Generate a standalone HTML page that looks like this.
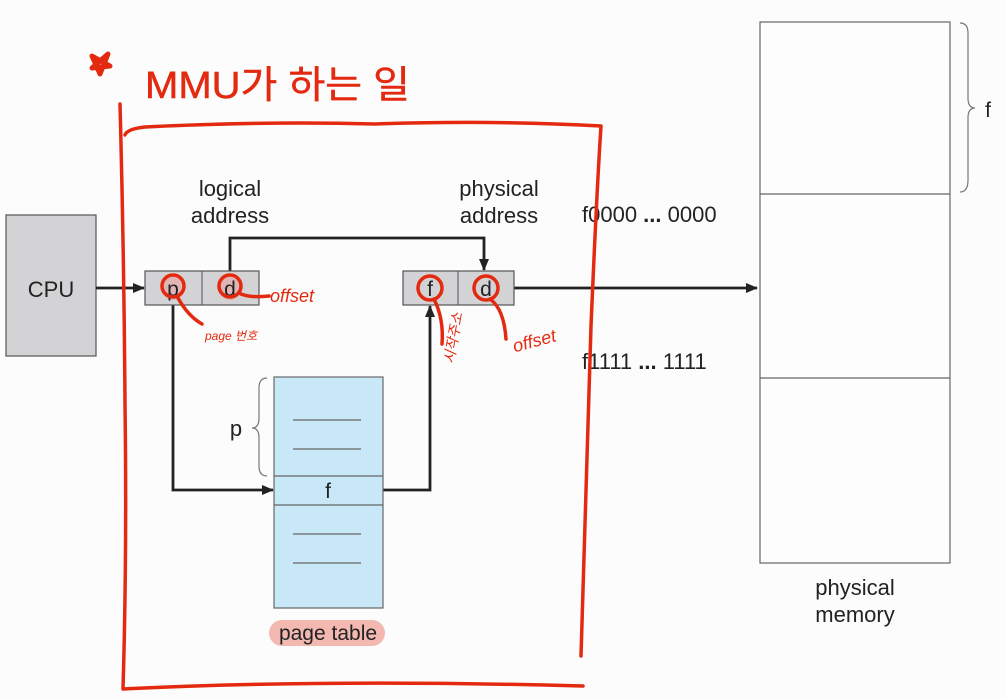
<!DOCTYPE html>
<html><head><meta charset="utf-8"><style>
html,body{margin:0;padding:0;background:#fcfcfc;}
svg{display:block}
text{font-family:"Liberation Sans",sans-serif;fill:#222}
</style></head><body>
<svg width="1006" height="699" viewBox="0 0 1006 699" xmlns="http://www.w3.org/2000/svg">
<defs><marker id="ar" markerWidth="12" markerHeight="12" refX="11" refY="6" orient="auto" markerUnits="userSpaceOnUse"><path d="M0,1 L12,6 L0,11 z" fill="#222"/></marker></defs>
<rect x="0" y="0" width="1006" height="699" fill="#fcfcfc"/>
<!-- CPU -->
<rect x="6" y="215" width="90" height="141" fill="#d3d3d5" stroke="#555" stroke-width="1.2"/>
<text x="51" y="297" font-size="22" text-anchor="middle">CPU</text>
<!-- labels -->
<text x="230" y="196" font-size="22" text-anchor="middle">logical</text>
<text x="230" y="223" font-size="22" text-anchor="middle">address</text>
<text x="499" y="196" font-size="22" text-anchor="middle">physical</text>
<text x="499" y="223" font-size="22" text-anchor="middle">address</text>
<!-- arrows -->
<line x1="96" y1="288" x2="144" y2="288" stroke="#222" stroke-width="2.8" marker-end="url(#ar)"/>
<polyline points="230,271 230,238 484,238 484,270" fill="none" stroke="#222" stroke-width="2.8" marker-end="url(#ar)"/>
<line x1="514" y1="288" x2="757" y2="288" stroke="#222" stroke-width="2.8" marker-end="url(#ar)"/>
<polyline points="173,305 173,490 273,490" fill="none" stroke="#222" stroke-width="2.8" marker-end="url(#ar)"/>
<polyline points="383,490 430,490 430,306" fill="none" stroke="#222" stroke-width="2.8" marker-end="url(#ar)"/>
<!-- logical box -->
<rect x="145" y="271" width="114" height="34" fill="#d3d3d5" stroke="#555" stroke-width="1.2"/>
<line x1="202" y1="271" x2="202" y2="305" stroke="#555"/>
<circle cx="173" cy="288" r="12" fill="#e9a2a0" opacity="0.6"/>
<circle cx="230" cy="288" r="12" fill="#e9a2a0" opacity="0.6"/>
<text x="173" y="296" font-size="21" text-anchor="middle">p</text>
<text x="230" y="296" font-size="21" text-anchor="middle">d</text>
<!-- physical box -->
<rect x="403" y="271" width="111" height="34" fill="#d3d3d5" stroke="#555" stroke-width="1.2"/>
<line x1="458" y1="271" x2="458" y2="305" stroke="#555"/>
<text x="430" y="296" font-size="21" text-anchor="middle">f</text>
<text x="486" y="296" font-size="21" text-anchor="middle">d</text>
<!-- page table -->
<rect x="274" y="377" width="109" height="231" fill="#c8e8f8" stroke="#666" stroke-width="1.2"/>
<line x1="274" y1="476" x2="383" y2="476" stroke="#666" stroke-width="1.2"/>
<line x1="274" y1="505" x2="383" y2="505" stroke="#666" stroke-width="1.2"/>
<g stroke="#666" stroke-width="1.2"><line x1="293" y1="420" x2="361" y2="420"/><line x1="293" y1="449" x2="361" y2="449"/><line x1="293" y1="534" x2="361" y2="534"/><line x1="293" y1="563" x2="361" y2="563"/></g>
<text x="328" y="498" font-size="21" text-anchor="middle">f</text>
<path d="M267,378 q-8,0 -8,10 v30 q0,10 -7,10 q7,0 7,10 v28 q0,10 8,10" fill="none" stroke="#777" stroke-width="1.2"/>
<text x="236" y="436" font-size="22" text-anchor="middle">p</text>
<rect x="269" y="620" width="116" height="26" rx="13" fill="#f3b8b0"/>
<text x="328" y="640" font-size="21" text-anchor="middle" fill="#4a2a2a">page table</text>
<!-- physical memory -->
<rect x="760" y="22" width="190" height="541" fill="#fdfdfd" stroke="#666" stroke-width="1.2"/>
<line x1="760" y1="194" x2="950" y2="194" stroke="#666" stroke-width="1.2"/>
<line x1="760" y1="378" x2="950" y2="378" stroke="#666" stroke-width="1.2"/>
<path d="M960,23 q8,0 8,10 v65 q0,10 7,10 q-7,0 -7,10 v62 q0,12 -8,12" fill="none" stroke="#777" stroke-width="1.2"/>
<text x="988" y="117" font-size="21" text-anchor="middle">f</text>
<text x="855" y="595" font-size="22" text-anchor="middle">physical</text>
<text x="855" y="622" font-size="22" text-anchor="middle">memory</text>
<text x="582" y="222" font-size="22">f0000 <tspan font-weight="bold">...</tspan> 0000</text>
<text x="582" y="369" font-size="22">f1111 <tspan font-weight="bold">...</tspan> 1111</text>
<!-- red annotations -->
<g fill="none" stroke="#e32a10" stroke-width="3.5" stroke-linecap="round" stroke-linejoin="round">
<path d="M125,135 q2,-6 20,-8 q120,-6 230,-3 q120,-4 226,2 q-4,60 -10,200 q-5,150 -10,330"/>
<path d="M120,104 q4,150 5,300 q2,150 -2,285 q200,-10 460,-3"/>
<path d="M92,68 l16,-14 l-8,20 l-8,-18 l18,10 z" stroke-width="5"/>
<circle cx="173" cy="286" r="11"/><circle cx="230" cy="286" r="11"/>
<circle cx="430" cy="288" r="12"/><circle cx="486" cy="288" r="12"/>
<path d="M241,294 q10,4 28,2"/>
<path d="M178,298 q10,18 24,26"/>
<path d="M434,299 q10,20 8,45"/>
<path d="M490,299 q14,10 16,40"/>
</g>
<text x="145" y="98" font-size="38" fill="#e32a10" stroke="#e32a10" stroke-width="0.5" font-family="Liberation Sans, Noto Sans CJK KR, sans-serif" textLength="265" lengthAdjust="spacingAndGlyphs" style="fill:#e32a10">MMU가 하는 일</text>
<g font-family="Liberation Sans, Noto Sans CJK KR, sans-serif" font-style="italic">
<text x="270" y="302" font-size="18" style="fill:#e32a10">offset</text>
<text x="205" y="340" font-size="12" style="fill:#e32a10">page 번호</text>
<text x="440" y="362" font-size="14" style="fill:#e32a10" transform="rotate(-80 448 355)">시작주소</text>
<text x="512" y="348" font-size="18" style="fill:#e32a10" transform="rotate(-15 530 340)">offset</text>
</g>
</svg>
</body></html>
